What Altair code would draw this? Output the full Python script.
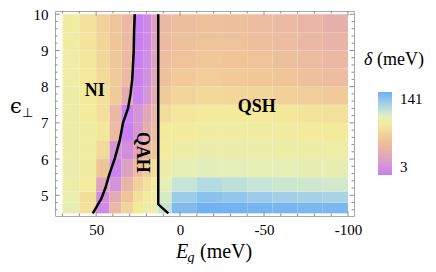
import altair as alt
import pandas as pd

# ---------------- data ----------------
# cell edges of the density map
eg_edges = [70, 60, 50, 42, 35, 28, 22, 17, 13, 5, -10, -25, -40, -55, -70, -85, -100]
eps_edges = [4.5, 4.8, 5.1, 5.5, 6.0, 6.5, 7.0, 7.5, 8.0, 8.5, 9.0, 9.5, 10.0]

# delta (meV) per cell, rows listed from top (eps 9.5-10) to bottom (eps 4.5-4.8)
delta_top_down = [
    [90, 80, 70, 60, 50, 5, 12, 30, 50, 56, 58, 57, 55, 52, 48, 43],
    [90, 82, 72, 62, 52, 5, 12, 30, 52, 58, 60, 59, 57, 54, 50, 46],
    [91, 84, 74, 63, 52, 5, 14, 32, 55, 60, 63, 62, 60, 57, 54, 50],
    [91, 85, 76, 65, 52, 6, 16, 35, 58, 65, 67, 66, 64, 62, 58, 55],
    [92, 87, 80, 66, 38, 8, 20, 40, 66, 72, 75, 74, 72, 70, 68, 66],
    [92, 88, 80, 50, 8, 20, 35, 50, 78, 84, 86, 86, 85, 84, 82, 80],
    [92, 90, 84, 52, 5, 22, 42, 55, 86, 88, 90, 90, 90, 89, 88, 86],
    [92, 90, 76, 20, 15, 35, 48, 62, 88, 92, 93, 93, 93, 92, 92, 91],
    [93, 90, 62, 8, 30, 55, 68, 78, 92, 98, 100, 99, 98, 98, 97, 96],
    [93, 88, 32, 18, 48, 70, 80, 88, 98, 110, 116, 113, 110, 108, 107, 106],
    [95, 78, 15, 38, 62, 80, 88, 92, 104, 124, 130, 127, 124, 122, 121, 120],
    [97, 80, 12, 50, 72, 86, 92, 96, 110, 134, 140, 139, 138, 137, 136, 136],
]

# phase boundaries
line1_eg = [27, 27.4, 27.6, 28.5, 29.5, 31, 34, 36, 39, 42, 44.5, 47, 52]
line1_eps = [10, 9.5, 9.0, 8.2, 7.8, 7.4, 7.0, 6.5, 6.0, 5.6, 5.2, 4.9, 4.5]
line2_eg = [13, 13, 7]
line2_eps = [10, 4.75, 4.5]

# phase labels
phase_names = ["NI", "QSH"]
phase_eg = [50.8, -45.7]
phase_eps = [7.89, 7.45]
qah_name = ["QAH"]
qah_eg = [22.9]
qah_eps = [6.19]

# colour legend
delta_stops = [3, 20, 40, 62, 87, 100, 112, 126, 141]
delta_colors = ["#c77cf6", "#d596d6", "#e5adad", "#efc598", "#f4ec9c",
                "#e3efbb", "#c0e2da", "#96c8ec", "#6eb0f0"]
legend_values = [3, 141]

# ticks
x_major = [50, 0, -50, -100]
x_minor = [70, 60, 40, 30, 20, 10, -10, -20, -30, -40, -60, -70, -80, -90]
y_major = [5, 6, 7, 8, 9, 10]
y_minor = [4.6, 4.8, 5.2, 5.4, 5.6, 5.8, 6.2, 6.4, 6.6, 6.8, 7.2, 7.4, 7.6, 7.8,
           8.2, 8.4, 8.6, 8.8, 9.2, 9.4, 9.6, 9.8]

# ---------------- tables ----------------
delta_grid = list(reversed(delta_top_down))
cells = []
for i in range(len(eps_edges) - 1):
    for j in range(len(eg_edges) - 1):
        cells.append({"eg0": eg_edges[j], "eg1": eg_edges[j + 1],
                      "e0": eps_edges[i], "e1": eps_edges[i + 1],
                      "delta": delta_grid[i][j]})
df_cells = pd.DataFrame(cells)

lines = []
for k, (a, b) in enumerate(zip(line1_eg, line1_eps)):
    lines.append({"eg": a, "eps": b, "seq": k, "line": "l1"})
for k, (a, b) in enumerate(zip(line2_eg, line2_eps)):
    lines.append({"eg": a, "eps": b, "seq": k, "line": "l2"})
df_lines = pd.DataFrame(lines)

df_phase = pd.DataFrame({"name": phase_names, "eg": phase_eg, "eps": phase_eps})
df_qah = pd.DataFrame({"name": qah_name, "eg": qah_eg, "eps": qah_eps})

W, H = 299, 205
SERIF = "Liberation Serif"
xscale = alt.Scale(domain=[74.5, -103.6], nice=False, zero=False)
yscale = alt.Scale(domain=[4.427, 10.09], nice=False, zero=False)
xaxis = alt.Axis(values=x_major, ticks=False, domain=False, grid=False,
                 labelFont=SERIF, labelFontSize=15, labelColor="black",
                 labelPadding=6, labelFlush=False,
                 labelExpr="toString(datum.value)")
yaxis = alt.Axis(values=y_major, ticks=False, domain=False, grid=False,
                 labelFont=SERIF, labelFontSize=15, labelColor="black",
                 labelPadding=7, labelFlush=False)


def X(field):
    return alt.X(field, scale=xscale, axis=xaxis, title=None)


def Y(field):
    return alt.Y(field, scale=yscale, axis=yaxis, title=None)


heat = alt.Chart(df_cells).mark_rect(strokeWidth=0).encode(
    x=X("eg0:Q"),
    x2="eg1:Q",
    y=Y("e0:Q"),
    y2="e1:Q",
    color=alt.Color("delta:Q", title=None,
                    scale=alt.Scale(domain=delta_stops, range=delta_colors,
                                    interpolate="rgb"),
                    legend=alt.Legend(orient="none", legendX=323, legendY=81,
                                      direction="vertical", values=legend_values,
                                      gradientLength=83, gradientThickness=14,
                                      gradientStrokeWidth=0, padding=0,
                                      labelFont=SERIF, labelFontSize=15,
                                      labelColor="black", labelOffset=8,
                                      labelBaseline="middle")),
)

bounds = alt.Chart(df_lines).mark_line(color="black", strokeWidth=2.5).encode(
    x=X("eg:Q"),
    y=Y("eps:Q"),
    detail="line:N",
    order="seq:Q",
)

phase_txt = alt.Chart(df_phase).mark_text(
    font=SERIF, fontSize=18, fontWeight="bold", color="black",
    align="center", baseline="middle").encode(
    x=X("eg:Q"),
    y=Y("eps:Q"),
    text="name:N",
)

qah_txt = alt.Chart(df_qah).mark_text(
    font=SERIF, fontSize=18, fontWeight="bold", color="black",
    align="center", baseline="middle", angle=90).encode(
    x=X("eg:Q"),
    y=Y("eps:Q"),
    text="name:N",
)

TICK = "#8c8c8c"


def xticks(vals, length):
    d = pd.DataFrame({"v": vals})
    bot = alt.Chart(d).mark_rule(color=TICK, strokeWidth=1).encode(
        x=X("v:Q"), y=alt.value(H), y2=alt.value(H - length))
    top = alt.Chart(d).mark_rule(color=TICK, strokeWidth=1).encode(
        x=X("v:Q"), y=alt.value(0), y2=alt.value(length))
    return [bot, top]


def yticks(vals, length):
    d = pd.DataFrame({"v": vals})
    left = alt.Chart(d).mark_rule(color=TICK, strokeWidth=1).encode(
        y=Y("v:Q"), x=alt.value(0), x2=alt.value(length))
    right = alt.Chart(d).mark_rule(color=TICK, strokeWidth=1).encode(
        y=Y("v:Q"), x=alt.value(W), x2=alt.value(W - length))
    return [left, right]


tick_layers = xticks(x_major, 4.5) + xticks(x_minor, 2.5) + yticks(y_major, 4.5) + yticks(y_minor, 2.5)

one = pd.DataFrame({"a": [0]})


def label(txt, x, y, size, style="normal", font=SERIF):
    return alt.Chart(one).mark_text(
        text=txt, font=font, fontSize=size, fontStyle=style, color="black",
        align="left", baseline="alphabetic").encode(x=alt.value(x), y=alt.value(y))


titles = [
    label("E", 121, 246.5, 20, "italic"),
    label("g", 132.5, 251, 14, "italic"),
    label("(meV)", 145, 246.5, 20),
    label("\u03f5", -45, 102, 21, "normal", "DejaVu Serif"),
    label("\u22a5", -33, 106, 13, "normal", "DejaVu Sans"),
    label("\u03b4", 309, 54, 18, "italic"),
    label("(meV)", 322, 54, 18),
]

chart = alt.layer(heat, bounds, phase_txt, qah_txt, *tick_layers, *titles).properties(
    width=W, height=H,
    autosize=alt.AutoSizeParams(type="none"),
    padding={"left": 47, "top": 3, "right": 74, "bottom": 48},
).configure_view(stroke="#a8a8a8", strokeWidth=1)

chart.save("out.html", embed_options={"renderer": "svg", "actions": False})
